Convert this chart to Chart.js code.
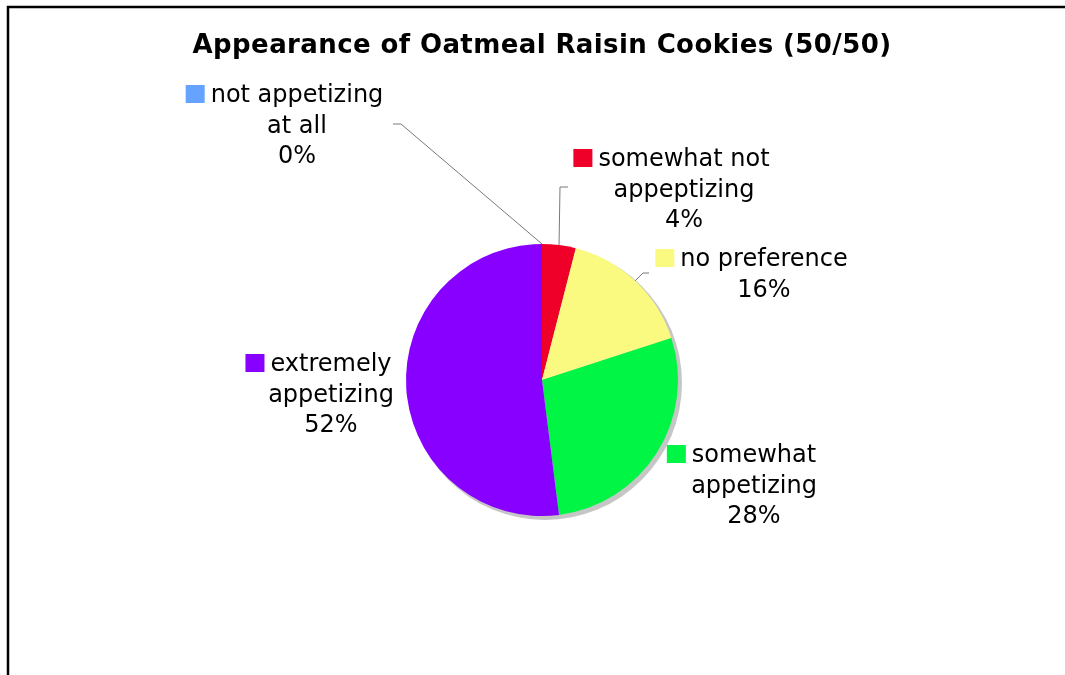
<!DOCTYPE html>
<html>
<head>
<meta charset="utf-8">
<script src="https://cdn.jsdelivr.net/npm/chart.js@4.4.1/dist/chart.umd.min.js"></script>
<style>
  html, body { margin: 0; padding: 0; background: #ffffff; }
  #wrap { width: 1065px; height: 675px; position: relative; }
</style>
</head>
<body>
<div id="wrap"><canvas id="c" width="1065" height="675"></canvas></div>
<script>
// Survey answers, in drawing order (clockwise from 12 o'clock)
const categories = [
  ["not appetizing", "at all"],
  ["somewhat not", "appeptizing"],
  ["no preference"],
  ["somewhat", "appetizing"],
  ["extremely", "appetizing"]
];
const shares = [0, 4, 16, 28, 52];
const sliceColors = ["#66a3ff", "#ee0028", "#fafa80", "#00f545", "#8800ff"];
const chartTitle = "Appearance of Oatmeal Raisin Cookies (50/50)";

// Label placement relative to the pie centre: text centre x, first baseline y,
// and optional leader line bends (elbow point, then end point).
const labelLayout = [
  { dx: -245, dy: -278, leader: [[-141, -256], [-149, -256]] },
  { dx: 142, dy: -214, leader: [[18, -193], [26, -193]] },
  { dx: 222, dy: -114, leader: [[101, -107], [107, -107]] },
  { dx: 212, dy: 82, leader: null },
  { dx: -211, dy: -9, leader: null }
];

const FONT = '"DejaVu Sans", Verdana, sans-serif';
const LINE_H = 30.5;

const framePlugin = {
  id: 'frame',
  beforeDraw(chart) {
    const ctx = chart.ctx;
    ctx.save();
    ctx.fillStyle = '#ffffff';
    ctx.fillRect(0, 0, chart.width, chart.height);
    ctx.strokeStyle = '#000000';
    ctx.lineWidth = 2.5;
    ctx.strokeRect(8, 7, chart.width + 20, chart.height + 20);
    ctx.restore();
  }
};

const titlePlugin = {
  id: 'centredTitle',
  afterDraw(chart) {
    const arc = chart.getDatasetMeta(0).data[0];
    const ctx = chart.ctx;
    ctx.save();
    ctx.font = 'bold 26px ' + FONT;
    ctx.letterSpacing = '0.4px';
    ctx.fillStyle = '#000000';
    ctx.textAlign = 'center';
    ctx.textBaseline = 'alphabetic';
    ctx.fillText(chartTitle, arc ? arc.x : chart.width / 2, 53);
    ctx.restore();
  }
};

const shadowPlugin = {
  id: 'pieShadow',
  beforeDatasetsDraw(chart) {
    const arc = chart.getDatasetMeta(0).data[0];
    if (!arc) return;
    const ctx = chart.ctx;
    ctx.save();
    ctx.fillStyle = '#c6c6c6';
    ctx.beginPath();
    ctx.arc(arc.x + 3, arc.y + 3, arc.outerRadius + 1, 0, Math.PI * 2);
    ctx.fill();
    ctx.restore();
  }
};

const labelPlugin = {
  id: 'sliceLabels',
  afterDatasetsDraw(chart) {
    const meta = chart.getDatasetMeta(0);
    const ctx = chart.ctx;
    const ds = chart.data.datasets[0];
    ctx.save();
    meta.data.forEach((arc, i) => {
      const cx = arc.x, cy = arc.y;
      const lay = labelLayout[i];
      // leader line from the slice edge
      if (lay.leader) {
        const mid = (arc.startAngle + arc.endAngle) / 2;
        const r = arc.outerRadius;
        ctx.strokeStyle = '#7a7a7a';
        ctx.lineWidth = 1;
        ctx.beginPath();
        ctx.moveTo(cx + Math.cos(mid) * r, cy + Math.sin(mid) * r);
        lay.leader.forEach(p => ctx.lineTo(cx + p[0], cy + p[1]));
        ctx.stroke();
      }
      const lines = chart.data.labels[i].concat([ds.data[i] + '%']);
      const tx = cx + lay.dx;
      const by = cy + lay.dy;
      ctx.font = '24px ' + FONT;
      ctx.fillStyle = '#000000';
      ctx.textAlign = 'center';
      ctx.textBaseline = 'alphabetic';
      lines.forEach((t, k) => ctx.fillText(t, tx, by + k * LINE_H));
      // colour key square before the first line
      const w = ctx.measureText(lines[0]).width;
      const sx = tx - w / 2 - 6 - 19;
      ctx.fillStyle = ds.backgroundColor[i];
      ctx.fillRect(sx, by - 17, 19, 18);
    });
    ctx.restore();
  }
};

new Chart(document.getElementById('c'), {
  type: 'pie',
  data: {
    labels: categories,
    datasets: [{
      data: shares,
      backgroundColor: sliceColors,
      borderWidth: 0,
      hoverOffset: 0
    }]
  },
  options: {
    responsive: false,
    animation: false,
    events: [],
    layout: { padding: { left: 406, right: 387, top: 244, bottom: 159 } },
    plugins: {
      legend: { display: false },
      tooltip: { enabled: false },
      title: { display: false }
    }
  },
  plugins: [framePlugin, shadowPlugin, labelPlugin, titlePlugin]
});
</script>
</body>
</html>
